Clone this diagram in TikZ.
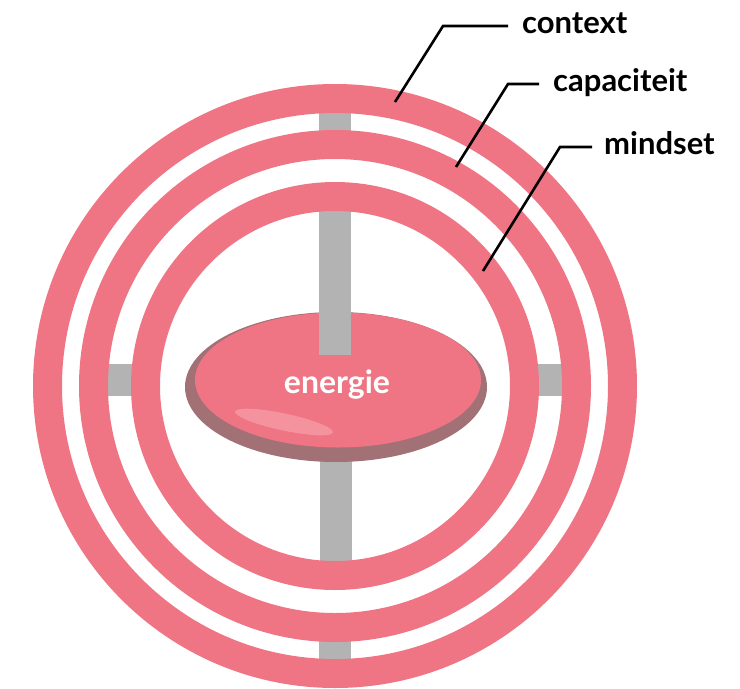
\documentclass[tikz,border=0pt]{standalone}
\usepackage{fontspec}
\setmainfont{Lato}

\definecolor{ringpink}{HTML}{EF7584}
\definecolor{discshade}{HTML}{A27176}
\definecolor{spokegray}{HTML}{B3B3B3}
\definecolor{glare}{HTML}{F4939D}

\begin{document}
\begin{tikzpicture}[x=1pt,y=-1pt,
  ring/.style={draw=ringpink,line width=29pt},
  spoke/.style={fill=spokegray},
  ringlabel/.style={font=\fontsize{31}{36}\selectfont\bfseries,anchor=west,
    inner xsep=14pt,inner ysep=0pt,text height=14pt,text depth=0pt},
  leader/.style={draw=black,line width=2.6pt}]
\useasboundingbox (0,0) rectangle (740,689);
\coordinate (hub) at (335,386);
% spokes between the rings
\fill [spoke] (319,100) rectangle (351,145);
\fill [spoke] (320,440) rectangle (352,575);
\fill [spoke] (319,628) rectangle (351,672);
\fill [spoke] (100,364) rectangle (140,396);
\fill [spoke] (530,364) rectangle (570,396);
% the disc
\fill [discshade] (336,387) ellipse [x radius=151pt, y radius=75pt];
\fill [ringpink] (338,380) ellipse [x radius=143pt, y radius=67.5pt];
\fill [glare, rotate around={-12:(284,422)}] (284,422) ellipse [x radius=50pt, y radius=8.5pt];
\fill [spoke] (319,200) rectangle (351,355);
\node [font=\fontsize{32}{38}\selectfont\bfseries, text=white, anchor=base] (energie) at (337,393) {energie};
% rings
\draw [ring] (hub) circle [radius=287.5pt];
\draw [ring] (hub) circle [radius=241.5pt];
\draw [ring] (hub) circle [radius=189.5pt];
% labels
\node [ringlabel] (context) at (508,26) {context};
\node [ringlabel] (capaciteit) at (539,84) {capaciteit};
\node [ringlabel, inner xsep=12pt] (mindset) at (592,147) {mindset};
\coordinate (context-knee) at (443,26);
\coordinate (context-tip) at (395,102);
\coordinate (capaciteit-knee) at (508,84);
\coordinate (capaciteit-tip) at (456,167);
\coordinate (mindset-knee) at (560,147);
\coordinate (mindset-tip) at (483,271);
\draw [leader] (context.west) -- (context-knee) -- (context-tip);
\draw [leader] (capaciteit.west) -- (capaciteit-knee) -- (capaciteit-tip);
\draw [leader] (mindset.west) -- (mindset-knee) -- (mindset-tip);
\end{tikzpicture}
\end{document}
